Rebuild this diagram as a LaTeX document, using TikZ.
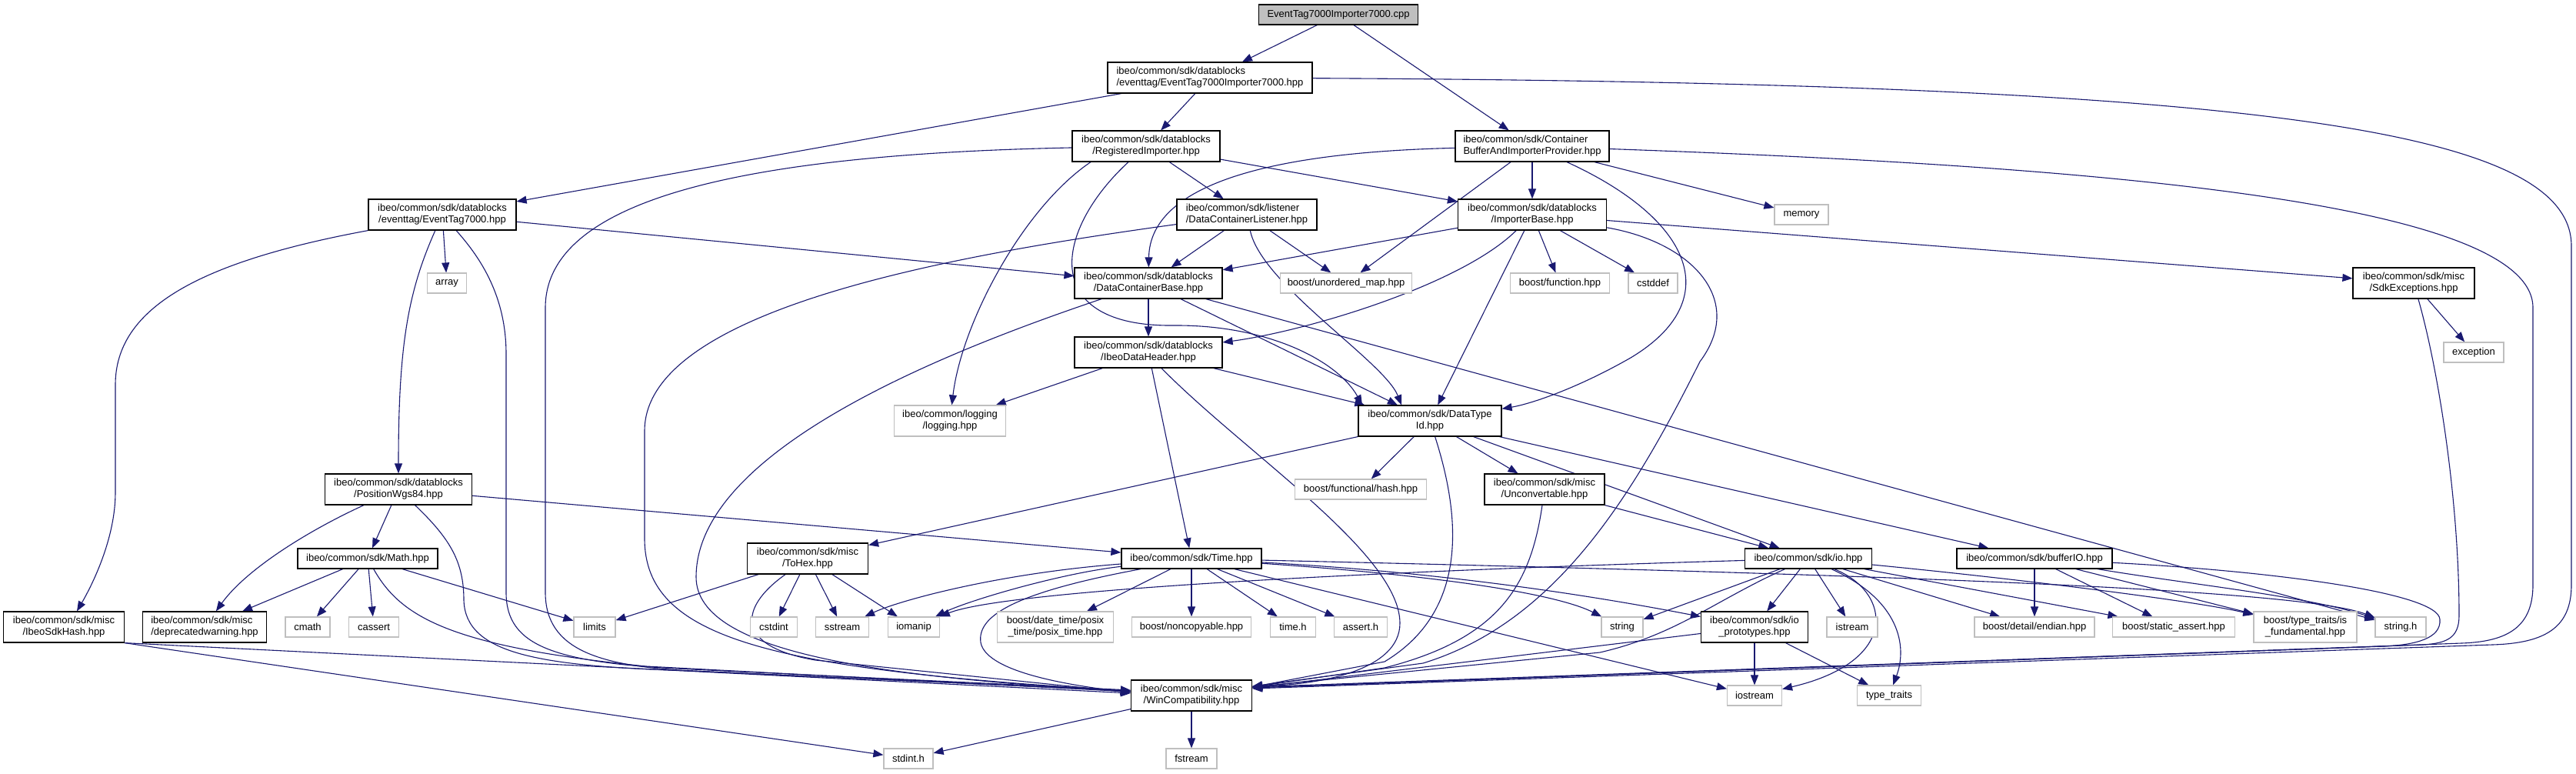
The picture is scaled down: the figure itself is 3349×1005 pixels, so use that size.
\documentclass[tikz,border=0pt]{standalone}
\usepackage{fontspec}
\setmainfont{Liberation Sans}
\usetikzlibrary{arrows.meta,backgrounds}
\definecolor{edgec}{HTML}{191970}
\definecolor{greyext}{HTML}{BFBFBF}
\begin{document}
\begin{tikzpicture}[x=1pt,y=-1pt,
  box/.style={rectangle, draw=black, line width=1.2pt, fill=white, inner sep=0pt, font=\fontsize{13}{15}\selectfont, align=center, minimum height=26pt},
  two/.style={minimum height=40pt},
  ext/.style={box, draw=greyext},
  dep/.style={draw=edgec, line width=1.1pt, -{Triangle[length=13pt,width=10pt]}},
  ]
\useasboundingbox (0,0) rectangle (3349,1005);
% ---------------- nodes ----------------
\node[box, fill=greyext, minimum width=207pt] (root) at (1740,19) {EventTag7000Importer7000.cpp};
\node[box, two, minimum width=266pt, align=left] (eti) at (1573,101) {ibeo/common/sdk/datablocks\\/eventtag/EventTag7000Importer7000.hpp};
\node[box, two, minimum width=192pt] (reg) at (1490,190) {ibeo/common/sdk/datablocks\\/RegisteredImporter.hpp};
\node[box, two, minimum width=200pt, align=left] (cbip) at (1992,190) {ibeo/common/sdk/Container\\BufferAndImporterProvider.hpp};
\node[box, two, minimum width=192pt] (et) at (575,279) {ibeo/common/sdk/datablocks\\/eventtag/EventTag7000.hpp};
\node[box, two, minimum width=182pt, align=left] (dcl) at (1621,279) {ibeo/common/sdk/listener\\/DataContainerListener.hpp};
\node[box, two, minimum width=193pt] (ib) at (1992,279) {ibeo/common/sdk/datablocks\\/ImporterBase.hpp};
\node[ext, minimum width=70pt] (mem) at (2342,279) {memory};
\node[ext, minimum width=51pt] (arr) at (581,368) {array};
\node[box, two, minimum width=192pt] (dcb) at (1493,368) {ibeo/common/sdk/datablocks\\/DataContainerBase.hpp};
\node[ext, minimum width=171pt] (umap) at (1750,368) {boost/unordered\_map.hpp};
\node[ext, minimum width=129pt] (func) at (2028,368) {boost/function.hpp};
\node[ext, minimum width=64pt] (cstddef) at (2149,368) {cstddef};
\node[box, two, minimum width=158pt] (sdkex) at (3138,368) {ibeo/common/sdk/misc\\/SdkExceptions.hpp};
\node[box, two, minimum width=192pt] (idh) at (1493,458) {ibeo/common/sdk/datablocks\\/IbeoDataHeader.hpp};
\node[ext, minimum width=78pt] (exc) at (3216,458) {exception};
\node[ext, two, minimum width=145pt] (log) at (1235,547) {ibeo/common/logging\\/logging.hpp};
\node[box, two, minimum width=186pt] (dti) at (1859,547) {ibeo/common/sdk/DataType\\Id.hpp};
\node[box, two, minimum width=191pt] (pos) at (518,636) {ibeo/common/sdk/datablocks\\/PositionWgs84.hpp};
\node[ext, minimum width=171pt] (fhash) at (1769,636) {boost/functional/hash.hpp};
\node[box, two, minimum width=156pt] (unc) at (2008,636) {ibeo/common/sdk/misc\\/Unconvertable.hpp};
\node[box, minimum width=182pt] (math) at (478,726) {ibeo/common/sdk/Math.hpp};
\node[box, two, minimum width=157pt] (tohex) at (1050,726) {ibeo/common/sdk/misc\\/ToHex.hpp};
\node[box, minimum width=182pt] (time) at (1549,726) {ibeo/common/sdk/Time.hpp};
\node[box, minimum width=165pt] (io) at (2351,726) {ibeo/common/sdk/io.hpp};
\node[box, minimum width=202pt] (bio) at (2645,726) {ibeo/common/sdk/bufferIO.hpp};
\node[box, two, minimum width=157pt] (hash) at (83,815) {ibeo/common/sdk/misc\\/IbeoSdkHash.hpp};
\node[box, two, minimum width=161pt, align=left] (depr) at (266,815) {ibeo/common/sdk/misc\\/deprecatedwarning.hpp};
\node[ext, minimum width=58pt] (cmath) at (400,815) {cmath};
\node[ext, minimum width=65pt] (cassert) at (486,815) {cassert};
\node[ext, minimum width=54pt] (limits) at (773,815) {limits};
\node[ext, minimum width=61pt] (cstdint) at (1006,815) {cstdint};
\node[ext, minimum width=69pt] (sstream) at (1095,815) {sstream};
\node[ext, minimum width=67pt] (iomanip) at (1188,815) {iomanip};
\node[ext, two, minimum width=151pt] (posix) at (1372,815) {boost/date\_time/posix\\\_time/posix\_time.hpp};
\node[ext, minimum width=155pt] (noncopy) at (1549,815) {boost/noncopyable.hpp};
\node[ext, minimum width=59pt] (timeh) at (1681,815) {time.h};
\node[ext, minimum width=69pt] (asserth) at (1769,815) {assert.h};
\node[ext, minimum width=54pt] (string) at (2109,815) {string};
\node[box, two, minimum width=139pt] (proto) at (2281,815) {ibeo/common/sdk/io\\\_prototypes.hpp};
\node[ext, minimum width=66pt] (istream) at (2408,815) {istream};
\node[ext, minimum width=156pt] (endian) at (2645,815) {boost/detail/endian.hpp};
\node[ext, minimum width=159pt] (sassert) at (2826,815) {boost/static\_assert.hpp};
\node[ext, two, minimum width=134pt] (isfund) at (2997,815) {boost/type\_traits/is\\\_fundamental.hpp};
\node[ext, minimum width=66pt] (stringh) at (3121,815) {string.h};
\node[box, two, minimum width=157pt] (win) at (1549,904) {ibeo/common/sdk/misc\\/WinCompatibility.hpp};
\node[ext, minimum width=71pt] (iostream) at (2281,904) {iostream};
\node[ext, minimum width=83pt] (ttraits) at (2456,904) {type\_traits};
\node[ext, minimum width=64pt] (stdinth) at (1181,986) {stdint.h};
\node[ext, minimum width=66pt] (fstream) at (1549,986) {fstream};
% ---------------- edges ----------------
\begin{scope}[on background layer]
\fill[white] (0,0) rectangle (3349,1005);
% root
\draw[dep] (root) -- (eti);
\draw[dep] (root) -- (cbip);
% eti
\draw[dep] (eti) -- (reg);
\draw[dep] (eti) -- (et);
\draw[dep] (eti) .. controls (2950,108) and (3343,170) .. (3343,320) -- (3343,760) .. controls (3343,815) and (3310,836) .. (3240,838) -- ([yshift=9pt]win.east);
% cbip
\draw[dep] (cbip) .. controls (1650,198) and (1495,240) .. (dcb);
\draw[dep] (cbip) -- (umap);
\draw[dep] (cbip) -- (ib);
\draw[dep] (cbip) -- (mem);
\draw[dep] (cbip) .. controls (2200,285) and (2245,390) .. (2120,465) .. controls (2050,505) and (1990,525) .. (dti);
\draw[dep] (cbip) .. controls (2700,215) and (3293,260) .. (3293,400) -- (3293,760) .. controls (3293,815) and (3260,834) .. (3200,836) -- ([yshift=10pt]win.east);
% reg
\draw[dep] (reg) -- (ib);
\draw[dep] (reg) -- (dcl);
\draw[dep] ([xshift=-72pt]reg.south) .. controls (1330,270) and (1250,420) .. (log);
\draw[dep] ([xshift=-23pt]reg.south) .. controls (1370,300) and (1350,425) .. (1526,423) .. controls (1650,422) and (1740,470) .. ([xshift=-88pt]dti.north);
\draw[dep] (reg) .. controls (1000,200) and (709,250) .. (709,400) -- (709,770) .. controls (709,845) and (780,866) .. (900,872) -- ([yshift=6pt]win.west);
% et
\draw[dep] (et.south west) .. controls (260,340) and (150,400) .. (150,500) -- (150,640) .. controls (150,700) and (120,760) .. ([xshift=17pt]hash.north);
\draw[dep] (et) .. controls (530,380) and (518,450) .. (pos);
\draw[dep] (et) -- (arr);
\draw[dep] (et) -- (dcb);
\draw[dep] (et) .. controls (620,330) and (658,380) .. (658,460) -- (658,770) .. controls (658,840) and (720,862) .. (900,870) -- ([yshift=7pt]win.west);
% dcl
\draw[dep] (dcl) -- (dcb);
\draw[dep] (dcl) -- (umap);
\draw[dep] (dcl) .. controls (1640,370) and (1800,470) .. ([xshift=-37pt]dti.north);
\draw[dep] (dcl) .. controls (1250,330) and (838,400) .. (838,560) -- (838,700) .. controls (838,830) and (1000,870) .. ([yshift=6pt]win.west);
% ib
\draw[dep] (ib) -- (dcb);
\draw[dep] (ib) .. controls (1900,370) and (1700,430) .. (idh);
\draw[dep] (ib) -- (dti);
\draw[dep] (ib) -- (func);
\draw[dep] (ib) -- (cstddef);
\draw[dep] (ib) -- (sdkex);
\draw[dep] (ib) .. controls (2200,315) and (2270,390) .. (2210,470) .. controls (2120,650) and (2020,810) .. (1850,862) -- ([yshift=12pt]win.east);
% dcb
\draw[dep] (dcb) -- (idh);
\draw[dep] (dcb) -- (dti);
\draw[dep] (dcb) -- (stringh);
\draw[dep] (dcb) .. controls (1250,450) and (905,580) .. (905,750) .. controls (905,850) and (1150,880) .. ([yshift=5pt]win.west);
% sdkex
\draw[dep] (sdkex) -- (exc);
\draw[dep] (sdkex) .. controls (3170,480) and (3197,650) .. (3197,800) .. controls (3197,830) and (3180,836) .. (3150,838) -- ([yshift=11pt]win.east);
% idh
\draw[dep] (idh) -- (log);
\draw[dep] (idh) -- (time);
\draw[dep] (idh) -- (dti);
\draw[dep] ([xshift=17pt]idh.south) .. controls (1620,590) and (1820,720) .. (1820,810) .. controls (1820,870) and (1720,890) .. ([yshift=12pt]win.east);
% dti
\draw[dep] (dti) -- (tohex);
\draw[dep] (dti) -- (fhash);
\draw[dep] (dti) -- (unc);
\draw[dep] (dti) -- (io);
\draw[dep] (dti) -- (bio);
\draw[dep] (dti) .. controls (1905,690) and (1900,800) .. (1800,860) -- ([yshift=11pt]win.east);
% pos
\draw[dep] (pos) .. controls (400,690) and (320,740) .. (depr);
\draw[dep] (pos) -- (math);
\draw[dep] (pos) -- (time);
\draw[dep] (pos) .. controls (585,700) and (603,730) .. (603,780) .. controls (605,850) and (700,866) .. (900,872) -- ([yshift=6pt]win.west);
% math
\draw[dep] (math) -- (depr);
\draw[dep] (math) -- (cmath);
\draw[dep] (math) -- (cassert);
\draw[dep] (math) -- (limits);
\draw[dep] (math) .. controls (520,800) and (580,840) .. (840,866) -- ([yshift=5pt]win.west);
% hash
\draw[dep] (hash.south east) -- ([yshift=3pt]win.west);
\draw[dep] (hash.south east) -- (stdinth);
% tohex
\draw[dep] (tohex) -- (limits);
\draw[dep] (tohex) -- (cstdint);
\draw[dep] (tohex) -- (sstream);
\draw[dep] (tohex) -- (iomanip);
\draw[dep] (tohex) .. controls (960,790) and (955,840) .. (1060,858) -- ([yshift=4pt]win.west);
% time
\draw[dep] (time) .. controls (1300,745) and (1170,780) .. (sstream);
\draw[dep] (time) .. controls (1380,745) and (1260,780) .. (iomanip);
\draw[dep] ([xshift=-66pt]time.south) .. controls (1320,770) and (1270,800) .. (1275,835) .. controls (1282,875) and (1400,892) .. ([yshift=4pt]win.west);
\draw[dep] (time) -- (posix);
\draw[dep] (time) -- (noncopy);
\draw[dep] (time) -- (timeh);
\draw[dep] (time) -- (asserth);
\draw[dep] (time) .. controls (1900,750) and (2030,775) .. (string);
\draw[dep] (time) .. controls (1900,745) and (2100,780) .. (proto);
\draw[dep] (time) -- (iostream);
\draw[dep] (time) .. controls (2600,750) and (3000,770) .. (stringh);
% unc
\draw[dep] (unc) -- (io);
\draw[dep] (unc) .. controls (1990,760) and (1950,830) .. (1800,868) -- ([yshift=11pt]win.east);
% io
\draw[dep] (io) .. controls (1700,745) and (1300,770) .. (iomanip);
\draw[dep] (io) -- (string);
\draw[dep] (io) .. controls (2230,780) and (2180,825) .. (2080,848) -- ([yshift=11pt]win.east);
\draw[dep] (io) -- (proto);
\draw[dep] (io) -- (istream);
\draw[dep] (io) .. controls (2460,770) and (2470,860) .. (iostream);
\draw[dep] (io) .. controls (2470,780) and (2480,840) .. (ttraits);
\draw[dep] (io) .. controls (2600,750) and (2850,780) .. (isfund);
\draw[dep] (io) -- (sassert);
\draw[dep] (io) -- (endian);
% bio
\draw[dep] (bio) -- (endian);
\draw[dep] (bio) -- (sassert);
\draw[dep] (bio) -- (isfund);
\draw[dep] (bio) .. controls (2850,760) and (3000,775) .. (stringh);
\draw[dep] (bio) .. controls (2950,742) and (3170,770) .. (3172,805) .. controls (3174,830) and (3140,838) .. (3100,840) -- ([yshift=10pt]win.east);
% proto
\draw[dep] (proto) -- (iostream);
\draw[dep] (proto) -- (ttraits);
\draw[dep] (proto) -- ([yshift=10pt]win.east);
% win
\draw[dep] (win) -- (stdinth);
\draw[dep] (win) -- (fstream);
\end{scope}
\end{tikzpicture}
\end{document}
